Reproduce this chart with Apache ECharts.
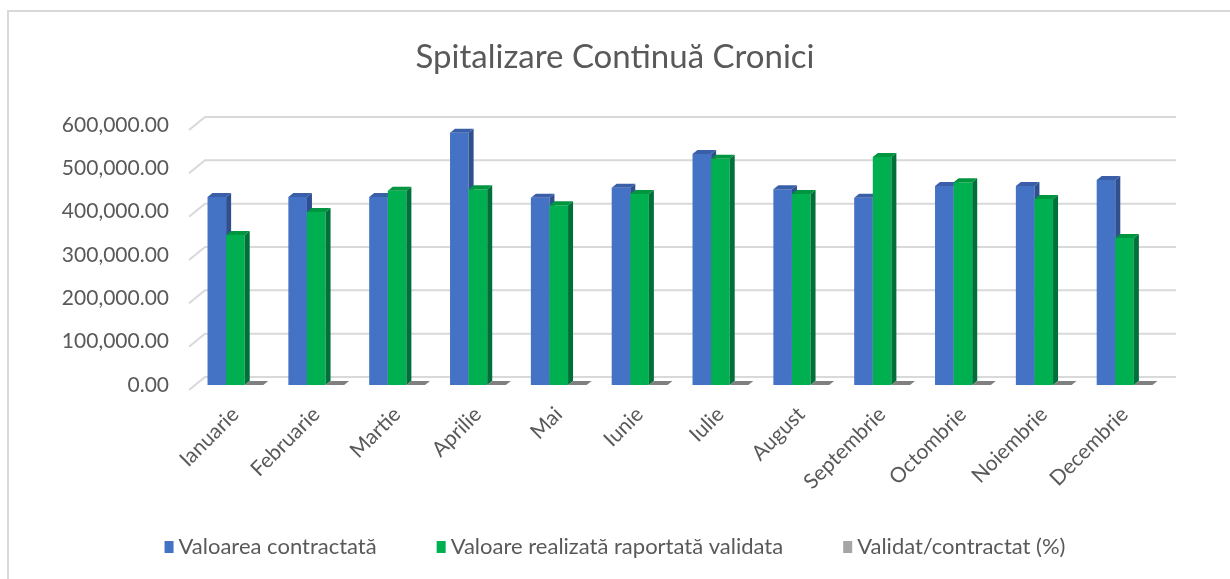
<!DOCTYPE html>
<html>
<head>
<meta charset="utf-8">
<script src="https://cdn.jsdelivr.net/npm/echarts@6/dist/echarts.min.js"></script>
<style>
  html, body { margin: 0; padding: 0; background: #fff; }
  #chart { width: 1230px; height: 579px; }
</style>
</head>
<body>
<div id="chart"></div>
<script>
const categories = ['Ianuarie', 'Februarie', 'Martie', 'Aprilie', 'Mai', 'Iunie',
  'Iulie', 'August', 'Septembrie', 'Octombrie', 'Noiembrie', 'Decembrie'];
const valContractata = [434000, 434000, 434000, 582000, 432000, 455000,
  533000, 452000, 432000, 459000, 459000, 473000];
const valRealizata = [346000, 399000, 448000, 452000, 415000, 441000,
  522000, 441000, 526000, 468000, 429000, 339000];
const validatPct = [80, 92, 103, 78, 96, 97, 98, 98, 122, 102, 94, 72];
const yTicks = [0, 100000, 200000, 300000, 400000, 500000, 600000];

const seriesNames = ['Valoarea contractată', 'Valoare realizată raportată validata', 'Validat/contractat (%)'];
const textColor = '#595959';
const fontFam = 'Lato, "Liberation Sans", sans-serif';

// 3d look: depth offset of each column
const DX = 5, DY = -4;

function fmt(v) {
  const s = Math.round(v).toString().replace(/\B(?=(\d{3})+(?!\d))/g, ',');
  return s + '.00';
}

// draws one column (front, side, top) for a series slot k = -1, 0, 1
function makeBar(k, front, side, top) {
  return function (params, api) {
    const idx = api.value(0);
    const base = api.coord([idx, 0]);
    const tip = api.coord([idx, api.value(1)]);
    const bw = api.size([1, 0])[0] * 0.23;
    const x0 = base[0] + (k - 0.5) * bw;
    const x1 = x0 + bw;
    const yb = base[1];
    const yt = tip[1];
    const kids = [];
    if (yb - yt > 0.5) {
      kids.push({ type: 'rect', shape: { x: x0, y: yt, width: bw, height: yb - yt }, style: { fill: front } });
      kids.push({ type: 'polygon', shape: { points: [[x1, yt], [x1 + DX, yt + DY], [x1 + DX, yb + DY], [x1, yb]] }, style: { fill: side } });
    }
    kids.push({ type: 'polygon', shape: { points: [[x0, yt], [x1, yt], [x1 + DX, yt + DY], [x0 + DX, yt + DY]] }, style: { fill: top } });
    return { type: 'group', children: kids };
  };
}

const chart = echarts.init(document.getElementById('chart'));

chart.setOption({
  backgroundColor: '#fff',
  animation: false,
  title: {
    text: 'Spitalizare Continuă Cronici',
    left: 'center',
    top: 36,
    textStyle: { color: textColor, fontFamily: fontFam, fontSize: 33, fontWeight: 'normal' }
  },
  graphic: [{
    type: 'rect',
    shape: { x: 8, y: 11, width: 1240, height: 600 },
    style: { fill: null, stroke: '#d9d9d9', lineWidth: 2 },
    z: -10
  }],
  legend: {
    data: seriesNames,
    bottom: 16,
    left: 'center',
    itemGap: 60,
    itemWidth: 9,
    itemHeight: 12,
    icon: 'rect',
    textStyle: { color: textColor, fontFamily: fontFam, fontSize: 22 }
  },
  grid: { left: 195, right: 65, top: 125, bottom: 194 },
  xAxis: {
    type: 'category',
    data: categories,
    axisLine: { show: false },
    axisTick: { show: false },
    axisLabel: {
      rotate: 45,
      margin: 26,
      interval: 0,
      color: textColor,
      fontFamily: fontFam,
      fontSize: 21
    }
  },
  yAxis: {
    type: 'value',
    min: 0,
    max: 600000,
    interval: 100000,
    axisLine: { show: false },
    axisTick: { show: false },
    splitLine: { show: false },
    axisLabel: {
      margin: 26,
      padding: [8, 0, 0, 0],
      color: textColor,
      fontFamily: fontFam,
      fontSize: 21,
      formatter: fmt
    }
  },
  series: [
    {
      name: 'grid3d',
      type: 'custom',
      silent: true,
      z: 1,
      encode: { x: 0, y: 1 },
      data: yTicks.map(v => [0, v]),
      renderItem: function (params, api) {
        const cs = params.coordSys;
        const y = api.coord([0, api.value(1)])[1];
        return {
          type: 'polyline',
          shape: { points: [[cs.x - 6, y + 5], [cs.x + 10, y - 8], [cs.x + cs.width + 11, y - 8]] },
          style: { stroke: '#d9d9d9', lineWidth: 2, fill: null }
        };
      }
    },
    {
      name: seriesNames[0],
      type: 'custom',
      z: 2,
      itemStyle: { color: '#4472C4' },
      encode: { x: 0, y: 1 },
      data: valContractata.map((v, i) => [i, v]),
      renderItem: makeBar(-1, '#4472C4', '#2F4F8F', '#3A5FA8')
    },
    {
      name: seriesNames[1],
      type: 'custom',
      z: 3,
      itemStyle: { color: '#00B050' },
      encode: { x: 0, y: 1 },
      data: valRealizata.map((v, i) => [i, v]),
      renderItem: makeBar(0, '#00B050', '#00703A', '#00953F')
    },
    {
      name: seriesNames[2],
      type: 'custom',
      z: 4,
      itemStyle: { color: '#A5A5A5' },
      encode: { x: 0, y: 1 },
      data: validatPct.map((v, i) => [i, v]),
      renderItem: makeBar(1, '#A5A5A5', '#6E6E6E', '#808080')
    }
  ]
});
</script>
</body>
</html>
